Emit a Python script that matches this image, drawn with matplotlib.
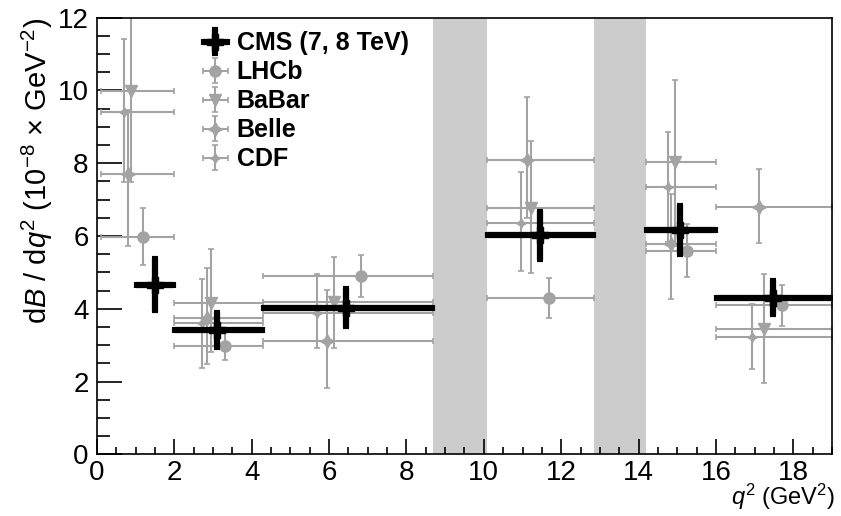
import numpy as np
import matplotlib
matplotlib.use("Agg")
import matplotlib.pyplot as plt
from matplotlib.ticker import MultipleLocator

plt.rcParams['font.family'] = ['Liberation Sans', 'DejaVu Sans']
plt.rcParams['mathtext.fontset'] = 'custom'
plt.rcParams['mathtext.rm'] = 'Liberation Sans'
plt.rcParams['mathtext.it'] = 'Liberation Sans:italic'

# q2 bins
bin_lo = np.array([0.1, 2.0, 4.3, 10.09, 14.18, 16.0])
bin_hi = np.array([2.0, 4.3, 8.68, 12.86, 16.0, 19.0])
cms_lo = np.array([1.0, 2.0, 4.3, 10.09, 14.18, 16.0])

# CMS (7, 8 TeV)
cms_x = np.array([1.50, 3.09, 6.45, 11.45, 15.06, 17.48])
cms_y = np.array([4.66, 3.42, 4.02, 6.03, 6.17, 4.31])
cms_up = np.array([0.74, 0.49, 0.55, 0.67, 0.68, 0.48])
cms_dn = np.array([0.71, 0.49, 0.53, 0.69, 0.69, 0.48])

# LHCb
lhcb_x = np.array([1.18, 3.31, 6.82, 11.68, 15.24, 17.72])
lhcb_y = np.array([5.98, 2.99, 4.90, 4.29, 5.60, 4.11])
lhcb_up = np.array([0.78, 0.39, 0.58, 0.57, 0.73, 0.55])
lhcb_dn = np.array([0.77, 0.39, 0.58, 0.55, 0.73, 0.58])

# BaBar
babar_x = np.array([0.88, 2.94, 6.12, 11.23, 14.94, 17.24])
babar_y = np.array([9.99, 4.15, 4.20, 6.76, 8.04, 3.44])
babar_up = np.array([2.40, 1.49, 1.23, 1.86, 2.26, 1.52])
babar_dn = np.array([2.50, 1.33, 1.27, 1.78, 2.30, 1.47])

# Belle
belle_x = np.array([0.81, 2.85, 5.95, 11.12, 14.85, 17.11])
belle_y = np.array([7.70, 3.74, 3.12, 8.09, 5.77, 6.79])
belle_up = np.array([1.76, 1.37, 1.40, 1.74, 1.40, 1.04])
belle_dn = np.array([1.97, 1.25, 1.30, 1.60, 1.50, 0.97])

# CDF
cdf_x = np.array([0.70, 2.72, 5.68, 10.95, 14.76, 16.94])
cdf_y = np.array([9.42, 3.60, 3.90, 6.37, 7.34, 3.22])
cdf_up = np.array([1.99, 1.22, 1.06, 1.40, 1.53, 0.91])
cdf_dn = np.array([1.93, 1.23, 0.97, 1.33, 1.50, 0.88])

vetoes = [(8.68, 10.09), (12.86, 14.18)]

grey = '#a3a3a3'

fig = plt.figure(figsize=(8.41, 5.16), dpi=100)
ax = fig.add_axes([0.1153, 0.1192, 0.874, 0.8465])

for lo, hi in vetoes:
    ax.axvspan(lo, hi, color='#cccccc', lw=0, zorder=0)


def draw(x, y, up, dn, marker, ms, label):
    xerr = [x - bin_lo, bin_hi - x]
    return ax.errorbar(x, y, yerr=[dn, up], xerr=xerr, fmt='none', color=grey,
                       elinewidth=1.5, capsize=2.5, capthick=1.2,
                       label=label, zorder=2), \
        ax.plot(x, y, ls='none', marker=marker, color=grey, ms=ms, zorder=2)[0]


h_lhcb = draw(lhcb_x, lhcb_y, lhcb_up, lhcb_dn, 'o', 8, 'LHCb')
h_babar = draw(babar_x, babar_y, babar_up, babar_dn, 'v', 8, 'BaBar')
h_belle = draw(belle_x, belle_y, belle_up, belle_dn, (4, 1, 0), 10, 'Belle')
h_cdf = draw(cdf_x, cdf_y, cdf_up, cdf_dn, (4, 1, 0), 7, 'CDF')

h_cms = ax.errorbar(cms_x, cms_y, yerr=[cms_dn, cms_up],
                    xerr=[cms_x - cms_lo, bin_hi - cms_x],
                    fmt='P', color='black', ms=11, elinewidth=4.5,
                    capsize=2, capthick=3, label='CMS (7, 8 TeV)', zorder=3)

ax.set_xlim(0, 19)
ax.set_ylim(0, 12)
ax.xaxis.set_major_locator(MultipleLocator(2))
ax.xaxis.set_minor_locator(MultipleLocator(0.5))
ax.yaxis.set_major_locator(MultipleLocator(2))
ax.yaxis.set_minor_locator(MultipleLocator(0.5))
ax.tick_params(which='both', direction='in', labelsize=20, width=1.2)
ax.tick_params(axis='y', which='major', length=18, pad=6)
ax.tick_params(axis='y', which='minor', length=9)
ax.tick_params(axis='x', which='major', length=11, pad=4)
ax.tick_params(axis='x', which='minor', length=5)
for s in ax.spines.values():
    s.set_linewidth(1.2)

ax.set_xlabel(r'$q^{2}$ (GeV$^{2}$)', fontsize=17, loc='right')
ax.xaxis.set_label_coords(1.005, -0.063)
ax.set_ylabel(r'd$\mathit{B}$ / d$q^{2}$ (10$^{-8}$ $\times$ GeV$^{-2}$)',
              fontsize=21, loc='top', labelpad=2)

handles = [h_cms, h_lhcb, h_babar, h_belle, h_cdf]
labels = ['CMS (7, 8 TeV)', 'LHCb', 'BaBar', 'Belle', 'CDF']
leg = ax.legend(handles=handles, labels=labels,
                loc='upper left', bbox_to_anchor=(0.11, 1.02), frameon=False,
                prop={'weight': 'bold', 'size': 18}, handlelength=1.2,
                handletextpad=0.25, labelspacing=0.2)

fig.savefig('out.png', dpi=100)
